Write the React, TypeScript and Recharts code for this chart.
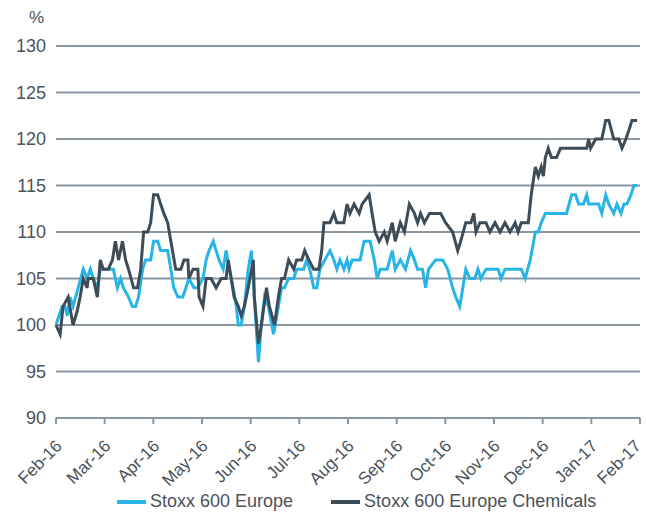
import { LineChart, Line, XAxis, YAxis, CartesianGrid } from "recharts";

// x positions are in month units: 20 per month, 0 = Feb-16, 240 = Feb-17
const monthLabels = [
  "Feb-16", "Mar-16", "Apr-16", "May-16", "Jun-16", "Jul-16", "Aug-16",
  "Sep-16", "Oct-16", "Nov-16", "Dec-16", "Jan-17", "Feb-17",
];
const monthTicks = monthLabels.map((_, i) => i * 20);
const yTicks = [90, 95, 100, 105, 110, 115, 120, 125, 130];

const europeT = [
  0, 2.5, 3.7, 4.6, 5.8, 7, 9.1, 11.2, 12.8, 14.1, 15.3, 17, 18.2, 23.6, 25.2,
  26.5, 27.7, 29.8, 31.4, 32.7, 33.9, 35.6, 36.8, 38.9, 40.1, 41.8, 43, 45.9,
  47.2, 48.4, 50.1, 52.1, 53.4, 54.6, 56.7, 58.3, 60.4, 61.7, 62.9, 64.6, 65.8,
  67, 68.7, 69.9, 71.2, 72.8, 74.1, 74.9, 76.1, 77.4, 79, 80.3, 81.5, 83.2,
  84.4, 85.7, 87.3, 89.4, 91.4, 92.7, 93.9, 95.6, 97.7, 98.9, 101.8, 103,
  104.3, 105.9, 107.2, 108.4, 110.5, 112.6, 114.2, 115.4, 116.7, 118.3, 119.6,
  120.4, 121.7, 125, 126.6, 129.1, 130.8, 132, 133.2, 136.1, 138.2, 139.4,
  141.5, 143.6, 145.7, 147.3, 148.6, 150.6, 151.9, 153.1, 156, 158.9, 161,
  163, 164.3, 165.9, 167.2, 168.4, 170.1, 172.1, 173.4, 174.6, 176.7, 181.7,
  182.9, 184.5, 191.2, 192.8, 194.9, 197, 198.2, 199.4, 201.1, 209.8, 211.9,
  213.5, 214.8, 216.8, 218.1, 218.9, 223, 224.3, 225.9, 227.2, 229.2, 230.5,
  232.2, 233.4, 234.6, 236.3, 237.5, 238.8,
];
const europeV = [
  100, 102, 102, 101, 103, 102, 104, 106, 105, 106, 105, 104, 106, 106, 104,
  105, 104, 103, 102, 102, 103, 106, 107, 107, 109, 109, 108, 108,
  106, 104, 103, 103, 104, 105, 104, 104, 105, 107, 108, 109, 108,
  107, 106, 108, 106, 104, 102, 100, 100, 102, 106, 108, 103, 96,
  100, 103, 102, 99, 102, 104, 104, 105, 105, 106, 106, 107,
  106, 104, 104, 106, 107, 108, 107, 106, 107, 106, 107,
  106, 107, 107, 109, 109, 107, 105, 106, 106, 108, 106,
  107, 106, 108, 107, 106, 106, 104, 106, 107, 107, 106,
  104, 103, 102, 104, 106, 105, 105, 106, 105, 106, 106,
  105, 106, 106, 105, 107, 110, 110, 111, 112, 112, 114,
  114, 113, 113, 114, 113, 113, 112, 114, 113, 112, 113,
  112, 113, 113, 114, 115, 115,
];

const chemT = [
  0, 1.7, 2.9, 5, 7, 8.7, 9.9, 11.2, 12.8, 13.2, 15.3, 17, 18.2, 19.4, 21.5,
  23.2, 24.4, 25.7, 27.3, 28.6, 29.8, 31.9, 33.5, 34.8, 36, 37.7, 38.9, 40.1,
  41.8, 43, 44.3, 45.9, 47.2, 49.2, 51.3, 52.6, 54.2, 54.6, 56.3, 58.3, 58.8,
  60.4, 61.7, 63.7, 65.8, 67.9, 69.9, 70.8, 72, 73.2, 74.9, 76.1, 77.4, 79,
  81.1, 81.5, 83.2, 84.4, 86.5, 87.7, 89.8, 91.4, 92.7, 93.9, 95.6, 97.7,
  98.9, 101, 102.2, 103.9, 105.9, 108, 109.2, 110.1, 112.6, 114.2, 115.4,
  118.3, 119.6, 120.8, 122.5, 124.6, 125.8, 128.7, 129.9, 131.2, 132.8, 134.9,
  136.1, 138.2, 139.4, 141.5, 143.2, 145.2, 147.3, 148.6, 149.8, 151.4, 153.5,
  158.1, 160.1, 163, 165.1, 166.3, 168.4, 170.5, 171.7, 172.6, 174.2, 176.7,
  178.3, 180.4, 182.5, 184.5, 186.6, 188.7, 189.9, 191.2, 194.1, 195.3, 197,
  198.2, 199.4, 200.3, 201.1, 202.3, 203.6, 205.7, 207.3, 218.1, 218.9, 219.7,
  221.8, 224.3, 225.9, 227.2, 229.2, 231.3, 232.6, 234.2, 235.5, 236.7, 238.8,
];
const chemV = [
  100, 99, 102, 103, 100, 101.5, 103, 105, 104, 105, 105, 103, 107, 106, 106,
  107, 109, 107, 109, 107, 106, 104, 104, 106, 110, 110, 111, 114,
  114, 113, 112, 111, 109, 106, 106, 107, 107, 105, 106, 106, 103,
  102, 105, 105, 104, 105, 105, 107, 105, 103, 102, 101, 102, 104,
  107, 103, 98, 100, 104, 102, 100, 103, 105, 105, 107, 106,
  107, 107, 108, 107, 106, 106, 108, 111, 111, 112, 111,
  111, 113, 112, 113, 112, 113, 114, 112, 110, 109, 110,
  109, 111, 109, 111, 110, 113, 112, 111, 112, 111, 112,
  112, 111, 110, 108, 109, 111, 111, 112, 110, 111, 111,
  110, 111, 110, 111, 110, 111, 110, 111, 111, 114, 117,
  116, 117, 116, 118, 119, 118, 118, 119, 119, 120, 119,
  120, 120, 122, 122, 120, 120, 119, 120, 121, 122, 122,
];

const europeData = europeT.map((t, i) => ({ t, v: europeV[i] }));
const chemData = chemT.map((t, i) => ({ t, v: chemV[i] }));

const BLUE = "#27b4e6";
const DARK = "#3e4c57";
const GRID = "#8a96a0";
const TEXT = "#4b5258";
const FONT = "'Liberation Sans', Arial, sans-serif";

function MonthTick({ x, y, payload }: any) {
  const idx = Math.round(payload.value / 20);
  // last label is pulled in a little so it stays inside the picture
  const dx = idx === monthLabels.length - 1 ? 2 : 7;
  const tx = x + dx;
  const ty = y + 21;
  return (
    <text
      x={tx}
      y={ty}
      transform={`rotate(-45 ${tx} ${ty})`}
      textAnchor="end"
      fill={TEXT}
      fontSize={17}
      fontFamily={FONT}
    >
      {monthLabels[idx]}
    </text>
  );
}

export default function App() {
  return (
    <div style={{ position: "absolute", left: 0, top: 0, width: 646, height: 513, fontFamily: FONT }}>
      <div style={{ position: "absolute", left: 29, top: 8, fontSize: 17, color: TEXT }}>%</div>
      <LineChart
        width={646}
        height={513}
        margin={{ top: 46, right: 6, left: 0, bottom: 25 }}
      >
        <CartesianGrid horizontal vertical={false} stroke={GRID} strokeWidth={2} />
        <XAxis
          type="number"
          dataKey="t"
          domain={[0, 240]}
          ticks={monthTicks}
          interval={0}
          height={70}
          axisLine={{ stroke: GRID, strokeWidth: 2 }}
          tickLine={{ stroke: GRID, strokeWidth: 2 }}
          tickSize={6}
          tick={<MonthTick />}
        />
        <YAxis
          type="number"
          domain={[90, 130]}
          ticks={yTicks}
          width={56}
          axisLine={false}
          tickLine={false}
          tickSize={0}
          tickMargin={10}
          tick={{ fill: TEXT, fontSize: 18, fontFamily: FONT }}
        />
        <Line
          data={europeData}
          dataKey="v"
          type="linear"
          stroke={BLUE}
          strokeWidth={3}
          dot={false}
          isAnimationActive={false}
        />
        <Line
          data={chemData}
          dataKey="v"
          type="linear"
          stroke={DARK}
          strokeWidth={3}
          dot={false}
          isAnimationActive={false}
        />
      </LineChart>
      <div
        style={{
          position: "absolute",
          top: 491,
          left: 117,
          display: "flex",
          alignItems: "center",
          fontSize: 18,
          lineHeight: "21px",
          color: TEXT,
          whiteSpace: "nowrap",
        }}
      >
        <span style={{ display: "inline-block", width: 29, height: 4, background: BLUE, marginRight: 4 }} />
        <span>Stoxx 600 Europe</span>
        <span style={{ display: "inline-block", width: 29, height: 4, background: DARK, marginLeft: 38, marginRight: 4 }} />
        <span>Stoxx 600 Europe Chemicals</span>
      </div>
    </div>
  );
}
